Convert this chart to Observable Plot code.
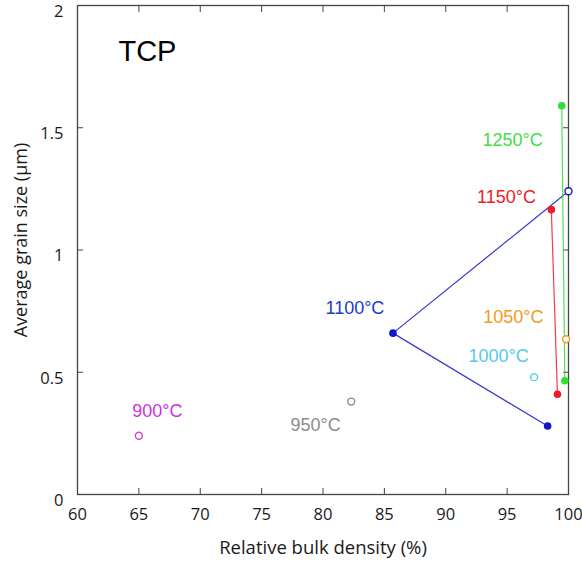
<!DOCTYPE html>
<html>
<head>
<meta charset="utf-8">
<script src="https://cdn.jsdelivr.net/npm/d3@7"></script>
<script src="https://cdn.jsdelivr.net/npm/@observablehq/plot@0.6"></script>
<style>
  body { margin: 0; background: #fff; }
  #chart svg { display: block; }
</style>
</head>
<body>
<div id="chart"></div>
<script>
// Temperatures (series)
const temps = ["900°C", "950°C", "1000°C", "1050°C", "1100°C", "1150°C", "1250°C"];
const colors = ["#cc44cc", "#8c8c8c", "#55c8ee", "#f29a1e", "#1414c8", "#ee1c24", "#33dd33"];
const labelColors = ["#cc33dd", "#8c8c8c", "#55c8ee", "#f29a1e", "#1a3cc8", "#ee1c24", "#44dd44"];

// Data points: temperature, relative density (%), grain size (µm), filled?
const ptTemp    = ["900°C", "950°C", "1000°C", "1050°C", "1100°C", "1100°C", "1100°C", "1150°C", "1150°C", "1250°C", "1250°C"];
const ptDensity = [65.0,    82.3,    97.2,     99.8,     100.0,    85.7,     98.3,     98.6,     99.1,     99.45,    99.7];
const ptSize    = [0.24,    0.38,    0.48,     0.635,    1.24,     0.66,     0.28,     1.165,    0.41,     1.59,     0.465];
const ptFilled  = [false,   false,   false,    false,    false,    true,     true,     true,     true,     true,     true];

// Label annotations
const lblText = ["900°C", "950°C", "1000°C", "1050°C", "1100°C", "1150°C", "1250°C"];
const lblX    = [66.5,    79.4,    94.3,     95.5,     82.6,     94.95,    95.45];
const lblY    = [0.34,    0.285,   0.565,    0.725,    0.76,     1.215,    1.45];

const xTicks = [60, 65, 70, 75, 80, 85, 90, 95, 100];
const yTicks = [0, 0.5, 1, 1.5, 2];
const xLabel = "Relative bulk density (%)";
const yLabel = "Average grain size (µm)";
const title = "TCP";

const points = ptTemp.map((t, i) => ({temp: t, x: ptDensity[i], y: ptSize[i], filled: ptFilled[i], order: i}));
const labels = lblText.map((t, i) => ({temp: t, x: lblX[i], y: lblY[i]}));
const colorOf = t => colors[temps.indexOf(t)];
const labelColorOf = t => labelColors[temps.indexOf(t)];

const axisFont = "'Open Sans', 'Liberation Sans', sans-serif";
const annFont = "'Liberation Sans', Arial, sans-serif";

const chart = Plot.plot({
  width: 582,
  height: 565,
  marginLeft: 77,
  marginRight: 14,
  marginTop: 5,
  marginBottom: 71,
  style: {fontFamily: axisFont, fontSize: "16px", color: "#222", background: "#fff"},
  x: {domain: [60, 100]},
  y: {domain: [0, 2]},
  marks: [
    // inward ticks on all four sides
    Plot.axisX(xTicks, {anchor: "bottom", tickSize: -6, tickFormat: () => "", label: null, stroke: "#444"}),
    Plot.axisX(xTicks, {anchor: "top", tickSize: -6, tickFormat: () => "", label: null, stroke: "#444"}),
    Plot.axisY(yTicks, {anchor: "left", tickSize: -6, tickFormat: () => "", label: null, stroke: "#444"}),
    Plot.axisY(yTicks, {anchor: "right", tickSize: -6, tickFormat: () => "", label: null, stroke: "#444"}),
    // tick labels
    Plot.axisX(xTicks, {anchor: "bottom", tickSize: 0, tickPadding: 14, fill: "#1a1a1a", fontSize: 16.5,
      tickFormat: d => String(d), label: null}),
    Plot.axisY(yTicks, {anchor: "left", tickSize: 0, tickPadding: 14, fill: "#1a1a1a", fontSize: 16.5, dy: 6,
      tickFormat: d => String(d), label: null}),
    // axis titles
    Plot.text([xLabel], {frameAnchor: "bottom", text: d => d, dy: 54, lineAnchor: "middle", textAnchor: "middle",
      fontSize: 18.5, fill: "#1a1a1a", fontFamily: axisFont}),
    Plot.text([yLabel], {frameAnchor: "left", text: d => d, rotate: -90, dx: -56, dy: -10,
      lineAnchor: "middle", textAnchor: "middle",
      fontSize: 18, fill: "#1a1a1a", fontFamily: axisFont}),
    Plot.frame({stroke: "#444", strokeWidth: 1.3}),
    // connecting lines per temperature
    Plot.line(points.filter(d => d.temp === "1100°C"), {x: "x", y: "y", stroke: colorOf("1100°C"), strokeWidth: 1.2, strokeOpacity: 0.85}),
    Plot.line(points.filter(d => d.temp === "1150°C"), {x: "x", y: "y", stroke: colorOf("1150°C"), strokeWidth: 1.2, strokeOpacity: 0.85}),
    Plot.line(points.filter(d => d.temp === "1250°C"), {x: "x", y: "y", stroke: colorOf("1250°C"), strokeWidth: 1.2, strokeOpacity: 0.85}),
    // markers
    Plot.dot(points.filter(d => !d.filled), {x: "x", y: "y", r: 3.5, fill: "white", stroke: d => colorOf(d.temp), strokeWidth: 1.4}),
    Plot.dot(points.filter(d => d.filled), {x: "x", y: "y", r: 3.8, fill: d => colorOf(d.temp), stroke: "none"}),
    // temperature labels
    Plot.text(labels, {x: "x", y: "y", text: "temp", fill: d => labelColorOf(d.temp),
      fontSize: 18, fontFamily: annFont}),
    // panel title
    Plot.text([title], {x: 65.7, y: 1.81, text: d => d, fontSize: 29, fill: "#000", fontFamily: annFont})
  ]
});
document.getElementById("chart").append(chart);
</script>
</body>
</html>
